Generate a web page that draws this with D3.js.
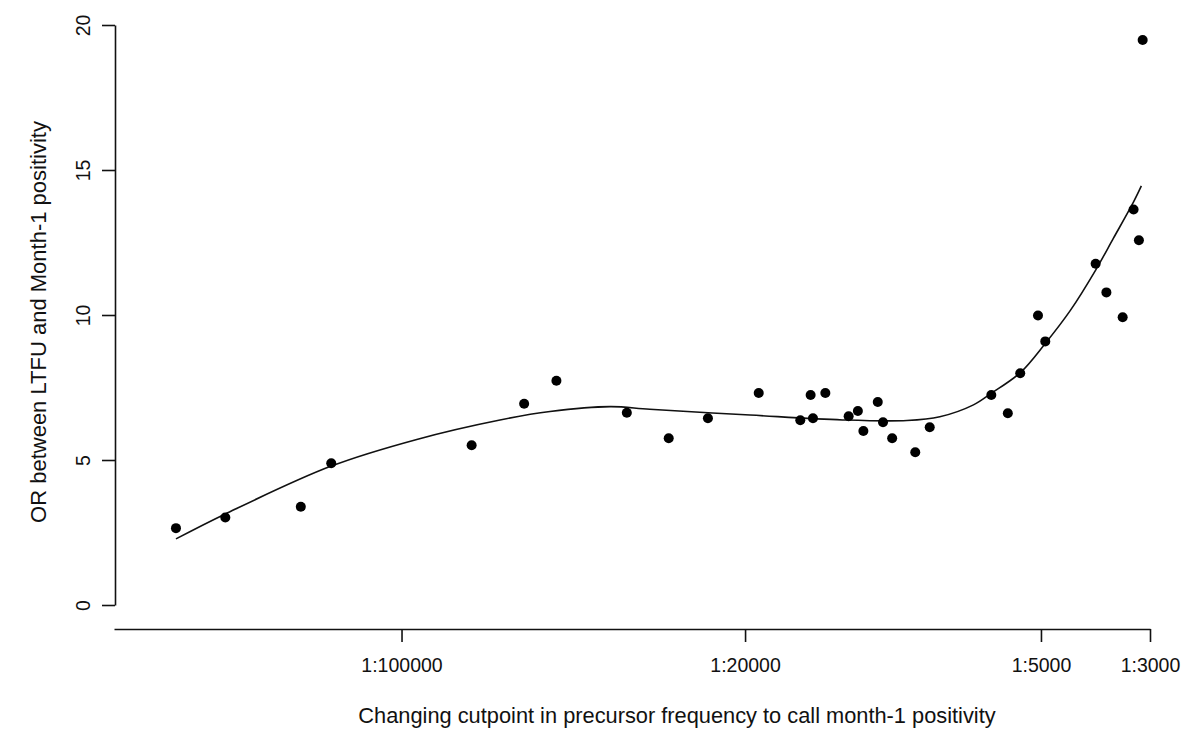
<!DOCTYPE html>
<html>
<head>
<meta charset="utf-8">
<script src="https://cdn.jsdelivr.net/npm/d3@7"></script>
<style>
  html, body { margin: 0; padding: 0; background: #fff; }
  svg text { font-family: "Liberation Sans", Arial, sans-serif; fill: #111; }
</style>
</head>
<body>
<svg id="chart" width="1196" height="733"></svg>
<script>
// cutpoint denominators (1:N) and odds ratios
const cutpoints = [287700, 228300, 160300, 139000, 72000, 56300, 48400, 34800, 28600, 23800,
                   18760, 15440, 14710, 14550, 13730, 12310, 11790, 11490, 10740, 10480,
                   10040, 9010, 8420, 6310, 5840, 5510, 5070, 4900, 3870, 3680,
                   3410, 3240, 3160, 3105];
const oddsRatios = [2.65, 3.02, 3.39, 4.89, 5.51, 6.94, 7.73, 6.63, 5.75, 6.44,
                    7.31, 6.37, 7.24, 6.44, 7.31, 6.51, 6.69, 6.00, 7.00, 6.30,
                    5.75, 5.27, 6.13, 7.24, 6.61, 7.99, 9.98, 9.09, 11.77, 10.78,
                    9.92, 13.64, 12.58, 19.48];

// smooth fit
const fitCutpoints = [287700, 228300, 139000, 93100, 63050, 49870, 37640, 31250, 19540,
                      12670, 9370, 8030, 6860, 6310, 5510, 4900, 4360, 3870, 3560, 3240, 3124];
const fitValues = [2.28, 3.14, 4.79, 5.71, 6.38, 6.67, 6.84, 6.75, 6.55,
                   6.38, 6.36, 6.49, 6.90, 7.30, 8.01, 9.02, 10.15, 11.55, 12.65, 13.90, 14.45];

const xTickValues = [100000, 20000, 5000, 3000];
const xTickLabels = ["1:100000", "1:20000", "1:5000", "1:3000"];
const yTickValues = [0, 5, 10, 15, 20];

const svg = d3.select("#chart");

const x = d3.scaleLog().domain([384600, 3000]).range([114, 1150]);
const y = d3.scaleLinear().domain([0, 20]).range([605, 25]);

// x axis
const xAxis = svg.append("g")
    .attr("transform", "translate(0,629)")
    .call(d3.axisBottom(x)
        .tickValues(xTickValues)
        .tickFormat((d, i) => xTickLabels[i])
        .tickSizeInner(13).tickSizeOuter(0).tickPadding(16));
xAxis.select(".domain").attr("stroke", "#111").attr("stroke-width", 1.6);
xAxis.selectAll(".tick line").attr("stroke", "#111").attr("stroke-width", 1.6);
xAxis.selectAll("text").attr("font-size", 19.5).attr("fill", "#111")
    .attr("font-family", "Liberation Sans, Arial, sans-serif");

// y axis, labels turned like R
const yAxis = svg.append("g")
    .attr("transform", "translate(115,0)")
    .call(d3.axisLeft(y).tickValues(yTickValues).tickSizeInner(13).tickSizeOuter(0).tickFormat(d3.format("d")));
yAxis.select(".domain").attr("stroke", "#111").attr("stroke-width", 1.6);
yAxis.selectAll(".tick line").attr("stroke", "#111").attr("stroke-width", 1.6);
yAxis.selectAll("text")
    .attr("font-size", 19.5).attr("fill", "#111")
    .attr("font-family", "Liberation Sans, Arial, sans-serif")
    .attr("x", null).attr("dy", null)
    .attr("text-anchor", "middle")
    .attr("transform", "translate(-25,0) rotate(-90)");

// axis titles
svg.append("text")
    .attr("x", 677).attr("y", 723)
    .attr("text-anchor", "middle")
    .attr("font-size", 21.8)
    .text("Changing cutpoint in precursor frequency to call month-1 positivity");

svg.append("text")
    .attr("transform", "translate(46,322) rotate(-90)")
    .attr("text-anchor", "middle")
    .attr("font-size", 22)
    .text("OR between LTFU and Month-1 positivity");

// fitted curve
const fit = fitCutpoints.map((c, i) => [c, fitValues[i]]);
svg.append("path")
    .datum(fit)
    .attr("fill", "none")
    .attr("stroke", "#111")
    .attr("stroke-width", 1.6)
    .attr("d", d3.line().x(d => x(d[0])).y(d => y(d[1])).curve(d3.curveCatmullRom.alpha(0.5)));

// points
svg.append("g")
    .selectAll("circle")
    .data(cutpoints.map((c, i) => [c, oddsRatios[i]]))
    .enter()
    .append("circle")
    .attr("cx", d => x(d[0]))
    .attr("cy", d => y(d[1]))
    .attr("r", 5)
    .attr("fill", "#000");
</script>
</body>
</html>
